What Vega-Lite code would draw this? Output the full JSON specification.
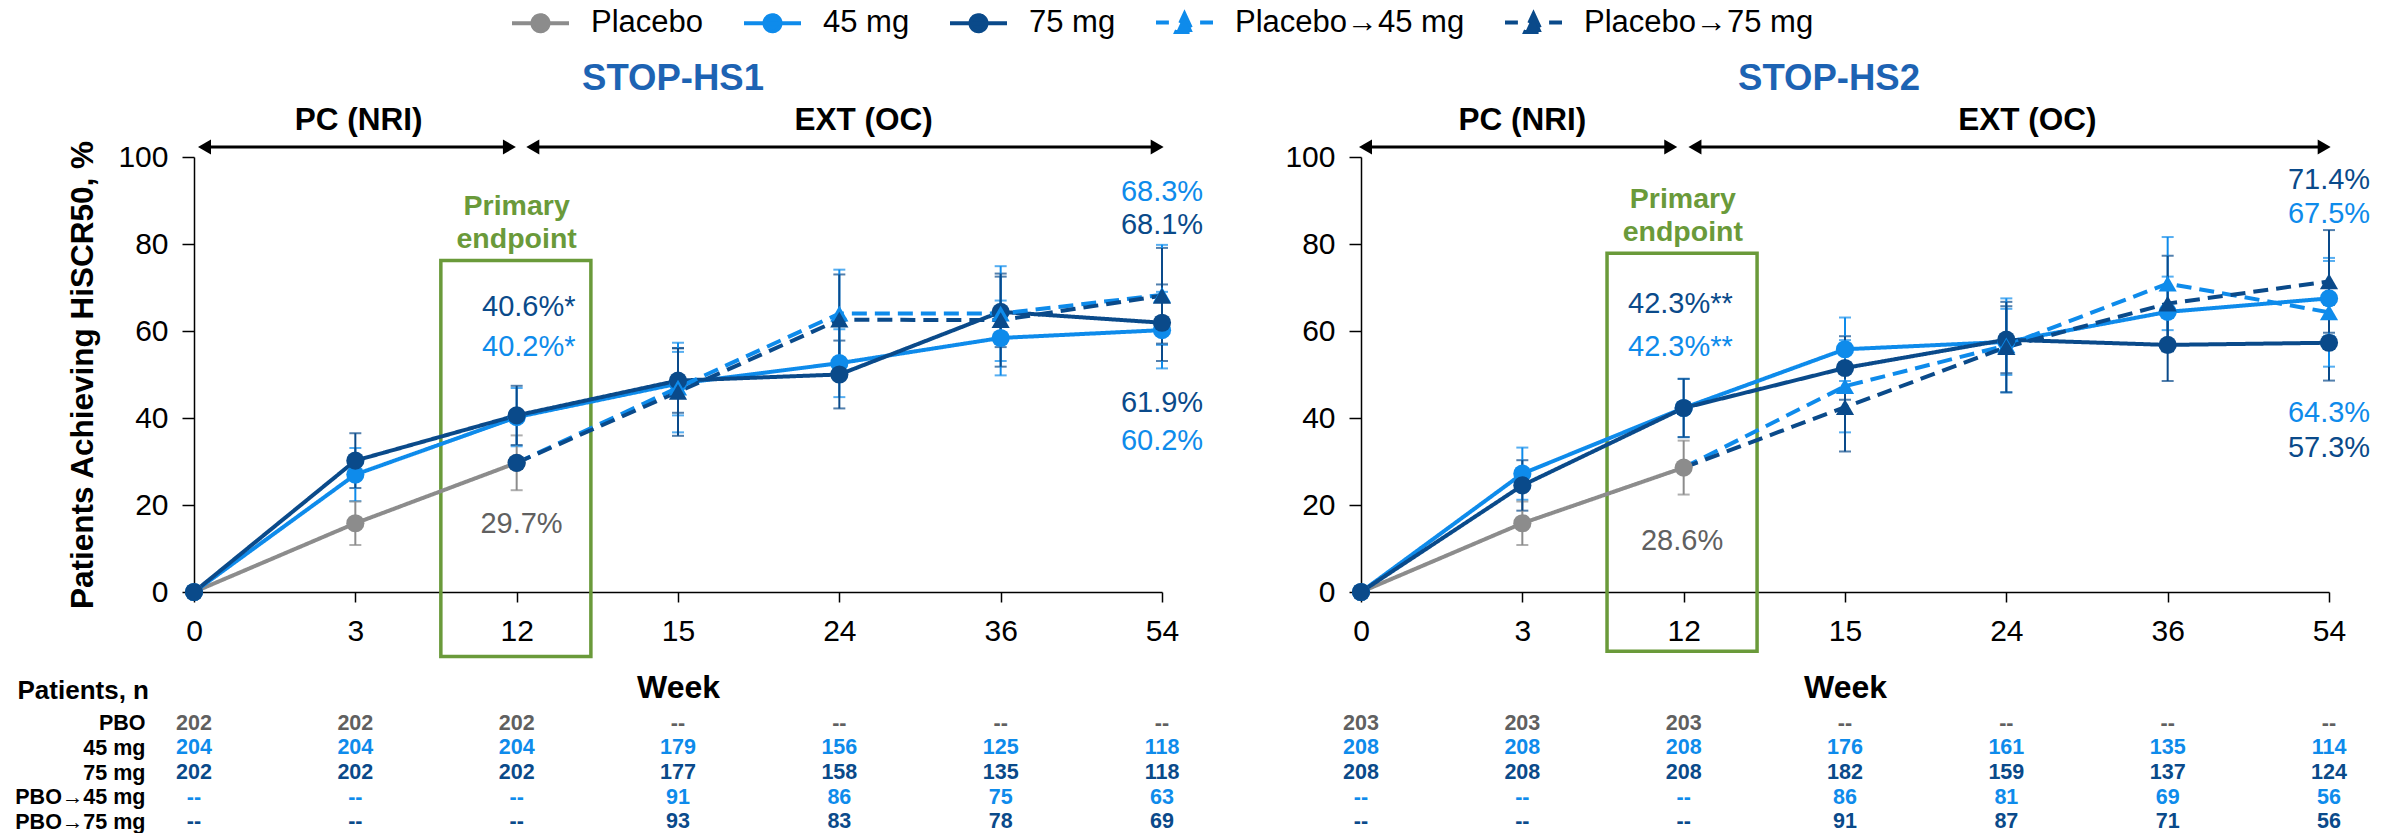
{
  "$schema": "https://vega.github.io/schema/vega-lite/v6.json",
  "background": "white",
  "padding": {"left": 14, "top": 7, "right": 10, "bottom": 0},
  "config": {
    "font": "Liberation Sans",
    "view": {"stroke": null},
    "axis": {"grid": false, "domainColor": "#000000", "tickColor": "#000000", "labelColor": "#000000", "titleColor": "#000000", "domainWidth": 1.5, "tickWidth": 1.5}
  },
  "datasets": {
    "pts": [
      {"s": "HS1", "series": "Placebo", "pos": 0, "week": 0, "v": 0},
      {"s": "HS1", "series": "Placebo", "pos": 1, "week": 3, "v": 15.8, "lo": 10.8, "hi": 20.8},
      {"s": "HS1", "series": "Placebo", "pos": 2, "week": 12, "v": 29.7, "lo": 23.4, "hi": 36.0},
      {"s": "HS1", "series": "45 mg", "pos": 0, "week": 0, "v": 0},
      {"s": "HS1", "series": "45 mg", "pos": 1, "week": 3, "v": 27.0, "lo": 20.9, "hi": 33.1},
      {"s": "HS1", "series": "45 mg", "pos": 2, "week": 12, "v": 40.2, "lo": 33.5, "hi": 46.9},
      {"s": "HS1", "series": "45 mg", "pos": 3, "week": 15, "v": 47.9, "lo": 40.6, "hi": 55.2},
      {"s": "HS1", "series": "45 mg", "pos": 4, "week": 24, "v": 52.6, "lo": 44.8, "hi": 60.4},
      {"s": "HS1", "series": "45 mg", "pos": 5, "week": 36, "v": 58.4, "lo": 49.8, "hi": 67.0},
      {"s": "HS1", "series": "45 mg", "pos": 6, "week": 54, "v": 60.2, "lo": 51.4, "hi": 69.0},
      {"s": "HS1", "series": "75 mg", "pos": 0, "week": 0, "v": 0},
      {"s": "HS1", "series": "75 mg", "pos": 1, "week": 3, "v": 30.2, "lo": 23.9, "hi": 36.5},
      {"s": "HS1", "series": "75 mg", "pos": 2, "week": 12, "v": 40.6, "lo": 33.8, "hi": 47.4},
      {"s": "HS1", "series": "75 mg", "pos": 3, "week": 15, "v": 48.6, "lo": 41.2, "hi": 56.0},
      {"s": "HS1", "series": "75 mg", "pos": 4, "week": 24, "v": 50.0, "lo": 42.2, "hi": 57.8},
      {"s": "HS1", "series": "75 mg", "pos": 5, "week": 36, "v": 64.4, "lo": 56.3, "hi": 72.5},
      {"s": "HS1", "series": "75 mg", "pos": 6, "week": 54, "v": 61.9, "lo": 53.1, "hi": 70.7},
      {"s": "HS1", "series": "Placebo→45 mg", "pos": 2, "week": 12, "v": 29.7},
      {"s": "HS1", "series": "Placebo→45 mg", "pos": 3, "week": 15, "v": 47.0, "lo": 36.7, "hi": 57.3},
      {"s": "HS1", "series": "Placebo→45 mg", "pos": 4, "week": 24, "v": 64.0, "lo": 53.9, "hi": 74.1},
      {"s": "HS1", "series": "Placebo→45 mg", "pos": 5, "week": 36, "v": 64.0, "lo": 53.1, "hi": 74.9},
      {"s": "HS1", "series": "Placebo→45 mg", "pos": 6, "week": 54, "v": 68.3, "lo": 56.8, "hi": 79.8},
      {"s": "HS1", "series": "Placebo→75 mg", "pos": 2, "week": 12, "v": 29.7},
      {"s": "HS1", "series": "Placebo→75 mg", "pos": 3, "week": 15, "v": 46.0, "lo": 35.9, "hi": 56.1},
      {"s": "HS1", "series": "Placebo→75 mg", "pos": 4, "week": 24, "v": 62.6, "lo": 52.2, "hi": 73.0},
      {"s": "HS1", "series": "Placebo→75 mg", "pos": 5, "week": 36, "v": 62.5, "lo": 51.8, "hi": 73.2},
      {"s": "HS1", "series": "Placebo→75 mg", "pos": 6, "week": 54, "v": 68.1, "lo": 57.1, "hi": 79.1},
      {"s": "HS2", "series": "Placebo", "pos": 0, "week": 0, "v": 0},
      {"s": "HS2", "series": "Placebo", "pos": 1, "week": 3, "v": 15.8, "lo": 10.8, "hi": 20.8},
      {"s": "HS2", "series": "Placebo", "pos": 2, "week": 12, "v": 28.6, "lo": 22.4, "hi": 34.8},
      {"s": "HS2", "series": "45 mg", "pos": 0, "week": 0, "v": 0},
      {"s": "HS2", "series": "45 mg", "pos": 1, "week": 3, "v": 27.2, "lo": 21.2, "hi": 33.2},
      {"s": "HS2", "series": "45 mg", "pos": 2, "week": 12, "v": 42.3, "lo": 35.6, "hi": 49.0},
      {"s": "HS2", "series": "45 mg", "pos": 3, "week": 15, "v": 55.8, "lo": 48.5, "hi": 63.1},
      {"s": "HS2", "series": "45 mg", "pos": 4, "week": 24, "v": 57.5, "lo": 49.9, "hi": 65.1},
      {"s": "HS2", "series": "45 mg", "pos": 5, "week": 36, "v": 64.4, "lo": 56.3, "hi": 72.5},
      {"s": "HS2", "series": "45 mg", "pos": 6, "week": 54, "v": 67.5, "lo": 58.9, "hi": 76.1},
      {"s": "HS2", "series": "75 mg", "pos": 0, "week": 0, "v": 0},
      {"s": "HS2", "series": "75 mg", "pos": 1, "week": 3, "v": 24.5, "lo": 18.7, "hi": 30.3},
      {"s": "HS2", "series": "75 mg", "pos": 2, "week": 12, "v": 42.3, "lo": 35.6, "hi": 49.0},
      {"s": "HS2", "series": "75 mg", "pos": 3, "week": 15, "v": 51.5, "lo": 44.2, "hi": 58.8},
      {"s": "HS2", "series": "75 mg", "pos": 4, "week": 24, "v": 58.0, "lo": 50.3, "hi": 65.7},
      {"s": "HS2", "series": "75 mg", "pos": 5, "week": 36, "v": 56.8, "lo": 48.5, "hi": 65.1},
      {"s": "HS2", "series": "75 mg", "pos": 6, "week": 54, "v": 57.3, "lo": 48.6, "hi": 66.0},
      {"s": "HS2", "series": "Placebo→45 mg", "pos": 2, "week": 12, "v": 28.6},
      {"s": "HS2", "series": "Placebo→45 mg", "pos": 3, "week": 15, "v": 47.3, "lo": 36.7, "hi": 57.9},
      {"s": "HS2", "series": "Placebo→45 mg", "pos": 4, "week": 24, "v": 56.7, "lo": 45.9, "hi": 67.5},
      {"s": "HS2", "series": "Placebo→45 mg", "pos": 5, "week": 36, "v": 70.9, "lo": 60.2, "hi": 81.6},
      {"s": "HS2", "series": "Placebo→45 mg", "pos": 6, "week": 54, "v": 64.3, "lo": 51.8, "hi": 76.8},
      {"s": "HS2", "series": "Placebo→75 mg", "pos": 2, "week": 12, "v": 28.6},
      {"s": "HS2", "series": "Placebo→75 mg", "pos": 3, "week": 15, "v": 42.5, "lo": 32.3, "hi": 52.7},
      {"s": "HS2", "series": "Placebo→75 mg", "pos": 4, "week": 24, "v": 56.3, "lo": 45.9, "hi": 66.7},
      {"s": "HS2", "series": "Placebo→75 mg", "pos": 5, "week": 36, "v": 66.3, "lo": 55.3, "hi": 77.3},
      {"s": "HS2", "series": "Placebo→75 mg", "pos": 6, "week": 54, "v": 71.4, "lo": 59.6, "hi": 83.2}
    ],
    "lab": [
      {"s": "HS1", "series": "75 mg", "pos": 2.075, "v": 65.5, "t": "40.6%*"},
      {"s": "HS1", "series": "45 mg", "pos": 2.075, "v": 56.3, "t": "40.2%*"},
      {"s": "HS1", "series": "Placebo", "pos": 2.03, "v": 15.7, "t": "29.7%"},
      {"s": "HS1", "series": "45 mg", "pos": 6, "v": 92.0, "t": "68.3%"},
      {"s": "HS1", "series": "75 mg", "pos": 6, "v": 84.3, "t": "68.1%"},
      {"s": "HS1", "series": "75 mg", "pos": 6, "v": 43.4, "t": "61.9%"},
      {"s": "HS1", "series": "45 mg", "pos": 6, "v": 34.8, "t": "60.2%"},
      {"s": "HS2", "series": "75 mg", "pos": 1.98, "v": 66.3, "t": "42.3%**"},
      {"s": "HS2", "series": "45 mg", "pos": 1.98, "v": 56.3, "t": "42.3%**"},
      {"s": "HS2", "series": "Placebo", "pos": 1.99, "v": 11.8, "t": "28.6%"},
      {"s": "HS2", "series": "75 mg", "pos": 6, "v": 94.6, "t": "71.4%"},
      {"s": "HS2", "series": "45 mg", "pos": 6, "v": 87.0, "t": "67.5%"},
      {"s": "HS2", "series": "45 mg", "pos": 6, "v": 41.1, "t": "64.3%"},
      {"s": "HS2", "series": "75 mg", "pos": 6, "v": 33.2, "t": "57.3%"}
    ],
    "box": [
      {"s": "HS1", "x1": 1.53, "x2": 2.46, "y1": -14.8, "y2": 76.2},
      {"s": "HS2", "x1": 1.525, "x2": 2.455, "y1": -13.6, "y2": 77.9}
    ],
    "pe": [
      {"s": "HS1", "pos": 2.0, "v": 88.8, "t": "Primary"},
      {"s": "HS1", "pos": 2.0, "v": 81.2, "t": "endpoint"},
      {"s": "HS2", "pos": 1.995, "v": 90.4, "t": "Primary"},
      {"s": "HS2", "pos": 1.995, "v": 82.7, "t": "endpoint"}
    ],
    "arr": [
      {"s": "HS1", "x1": 0.065, "x2": 1.955, "y": 102.3},
      {"s": "HS1", "x1": 2.1, "x2": 5.97, "y": 102.3},
      {"s": "HS2", "x1": 0.028, "x2": 1.92, "y": 102.3},
      {"s": "HS2", "x1": 2.07, "x2": 5.97, "y": 102.3}
    ],
    "phase": [
      {"s": "HS1", "pos": 1.02, "v": 108.2, "t": "PC (NRI)"},
      {"s": "HS1", "pos": 4.15, "v": 108.2, "t": "EXT (OC)"},
      {"s": "HS2", "pos": 1.0, "v": 108.2, "t": "PC (NRI)"},
      {"s": "HS2", "pos": 4.13, "v": 108.2, "t": "EXT (OC)"}
    ],
    "tbl": [
      {"s": "HS1", "series": "Placebo", "pos": 0, "n": "202"},
      {"s": "HS1", "series": "Placebo", "pos": 1, "n": "202"},
      {"s": "HS1", "series": "Placebo", "pos": 2, "n": "202"},
      {"s": "HS1", "series": "Placebo", "pos": 3, "n": "--"},
      {"s": "HS1", "series": "Placebo", "pos": 4, "n": "--"},
      {"s": "HS1", "series": "Placebo", "pos": 5, "n": "--"},
      {"s": "HS1", "series": "Placebo", "pos": 6, "n": "--"},
      {"s": "HS1", "series": "45 mg", "pos": 0, "n": "204"},
      {"s": "HS1", "series": "45 mg", "pos": 1, "n": "204"},
      {"s": "HS1", "series": "45 mg", "pos": 2, "n": "204"},
      {"s": "HS1", "series": "45 mg", "pos": 3, "n": "179"},
      {"s": "HS1", "series": "45 mg", "pos": 4, "n": "156"},
      {"s": "HS1", "series": "45 mg", "pos": 5, "n": "125"},
      {"s": "HS1", "series": "45 mg", "pos": 6, "n": "118"},
      {"s": "HS1", "series": "75 mg", "pos": 0, "n": "202"},
      {"s": "HS1", "series": "75 mg", "pos": 1, "n": "202"},
      {"s": "HS1", "series": "75 mg", "pos": 2, "n": "202"},
      {"s": "HS1", "series": "75 mg", "pos": 3, "n": "177"},
      {"s": "HS1", "series": "75 mg", "pos": 4, "n": "158"},
      {"s": "HS1", "series": "75 mg", "pos": 5, "n": "135"},
      {"s": "HS1", "series": "75 mg", "pos": 6, "n": "118"},
      {"s": "HS1", "series": "Placebo→45 mg", "pos": 0, "n": "--"},
      {"s": "HS1", "series": "Placebo→45 mg", "pos": 1, "n": "--"},
      {"s": "HS1", "series": "Placebo→45 mg", "pos": 2, "n": "--"},
      {"s": "HS1", "series": "Placebo→45 mg", "pos": 3, "n": "91"},
      {"s": "HS1", "series": "Placebo→45 mg", "pos": 4, "n": "86"},
      {"s": "HS1", "series": "Placebo→45 mg", "pos": 5, "n": "75"},
      {"s": "HS1", "series": "Placebo→45 mg", "pos": 6, "n": "63"},
      {"s": "HS1", "series": "Placebo→75 mg", "pos": 0, "n": "--"},
      {"s": "HS1", "series": "Placebo→75 mg", "pos": 1, "n": "--"},
      {"s": "HS1", "series": "Placebo→75 mg", "pos": 2, "n": "--"},
      {"s": "HS1", "series": "Placebo→75 mg", "pos": 3, "n": "93"},
      {"s": "HS1", "series": "Placebo→75 mg", "pos": 4, "n": "83"},
      {"s": "HS1", "series": "Placebo→75 mg", "pos": 5, "n": "78"},
      {"s": "HS1", "series": "Placebo→75 mg", "pos": 6, "n": "69"},
      {"s": "HS2", "series": "Placebo", "pos": 0, "n": "203"},
      {"s": "HS2", "series": "Placebo", "pos": 1, "n": "203"},
      {"s": "HS2", "series": "Placebo", "pos": 2, "n": "203"},
      {"s": "HS2", "series": "Placebo", "pos": 3, "n": "--"},
      {"s": "HS2", "series": "Placebo", "pos": 4, "n": "--"},
      {"s": "HS2", "series": "Placebo", "pos": 5, "n": "--"},
      {"s": "HS2", "series": "Placebo", "pos": 6, "n": "--"},
      {"s": "HS2", "series": "45 mg", "pos": 0, "n": "208"},
      {"s": "HS2", "series": "45 mg", "pos": 1, "n": "208"},
      {"s": "HS2", "series": "45 mg", "pos": 2, "n": "208"},
      {"s": "HS2", "series": "45 mg", "pos": 3, "n": "176"},
      {"s": "HS2", "series": "45 mg", "pos": 4, "n": "161"},
      {"s": "HS2", "series": "45 mg", "pos": 5, "n": "135"},
      {"s": "HS2", "series": "45 mg", "pos": 6, "n": "114"},
      {"s": "HS2", "series": "75 mg", "pos": 0, "n": "208"},
      {"s": "HS2", "series": "75 mg", "pos": 1, "n": "208"},
      {"s": "HS2", "series": "75 mg", "pos": 2, "n": "208"},
      {"s": "HS2", "series": "75 mg", "pos": 3, "n": "182"},
      {"s": "HS2", "series": "75 mg", "pos": 4, "n": "159"},
      {"s": "HS2", "series": "75 mg", "pos": 5, "n": "137"},
      {"s": "HS2", "series": "75 mg", "pos": 6, "n": "124"},
      {"s": "HS2", "series": "Placebo→45 mg", "pos": 0, "n": "--"},
      {"s": "HS2", "series": "Placebo→45 mg", "pos": 1, "n": "--"},
      {"s": "HS2", "series": "Placebo→45 mg", "pos": 2, "n": "--"},
      {"s": "HS2", "series": "Placebo→45 mg", "pos": 3, "n": "86"},
      {"s": "HS2", "series": "Placebo→45 mg", "pos": 4, "n": "81"},
      {"s": "HS2", "series": "Placebo→45 mg", "pos": 5, "n": "69"},
      {"s": "HS2", "series": "Placebo→45 mg", "pos": 6, "n": "56"},
      {"s": "HS2", "series": "Placebo→75 mg", "pos": 0, "n": "--"},
      {"s": "HS2", "series": "Placebo→75 mg", "pos": 1, "n": "--"},
      {"s": "HS2", "series": "Placebo→75 mg", "pos": 2, "n": "--"},
      {"s": "HS2", "series": "Placebo→75 mg", "pos": 3, "n": "91"},
      {"s": "HS2", "series": "Placebo→75 mg", "pos": 4, "n": "87"},
      {"s": "HS2", "series": "Placebo→75 mg", "pos": 5, "n": "71"},
      {"s": "HS2", "series": "Placebo→75 mg", "pos": 6, "n": "56"}
    ]
  },
  "resolve": {"scale": {"color": "shared", "fill": "shared", "strokeDash": "shared"}},
  "bounds": "flush",
  "columns": 2,
  "spacing": {"row": 119.5, "column": 199},
  "concat": [
    {
      "width": 968,
      "height": 435,
      "title": {"text": "STOP-HS1", "fontSize": 36.5, "fontWeight": "bold", "color": "#1d63b3", "frame": "group", "anchor": "middle", "offset": 7.5, "dx": -5},
      "layer": [
        {
          "data": {"name": "box"},
          "transform": [{"filter": "datum.s === 'HS1'"}],
          "mark": {"type": "rect", "filled": false, "stroke": "#6a9a3a", "strokeWidth": 3.5},
          "encoding": {
            "x": {"field": "x1", "type": "quantitative", "scale": {"domain": [0, 6]},
              "axis": {"values": [0, 1, 2, 3, 4, 5, 6], "labelExpr": "['0','3','12','15','24','36','54'][datum.value]", "tickSize": 10, "labelPadding": 14, "labelFontSize": 30, "labelFlush": false, "labelOverlap": false, "title": "Week", "titleFontSize": 32, "titleFontWeight": "bold", "titlePadding": 26}},
            "x2": {"field": "x2"},
            "y": {"field": "y1", "type": "quantitative", "scale": {"domain": [0, 100]},
              "axis": {"values": [0, 20, 40, 60, 80, 100], "tickSize": 12, "labelPadding": 14, "labelFontSize": 30, "title": "Patients Achieving HiSCR50, %", "titleFontSize": 31.5, "titleFontWeight": "bold", "titlePadding": 18}},
            "y2": {"field": "y2"}
          }
        },
        {
          "data": {"name": "pts"},
          "transform": [{"filter": "datum.s === 'HS1'"}],
          "mark": {"type": "line", "strokeWidth": 4},
          "encoding": {
            "x": {"field": "pos", "type": "quantitative", "scale": {"domain": [0, 6]}, "title": "Week"},
            "y": {"field": "v", "type": "quantitative", "scale": {"domain": [0, 100]}, "title": "Patients Achieving HiSCR50, %"},
            "color": {"field": "series", "type": "nominal",
              "scale": {"domain": ["Placebo", "45 mg", "75 mg", "Placebo→45 mg", "Placebo→75 mg"], "range": ["#8c8c8c", "#0e8beb", "#0a4a8a", "#0e8beb", "#0a4a8a"]},
              "legend": {
                "orient": "none", "legendX": 331, "legendY": -150, "direction": "horizontal", "title": null,
                "labelFontSize": 31, "labelColor": "#000000", "labelOffset": 35, "columnPadding": 32, "labelLimit": 400,
                "symbolSize": 576, "symbolStrokeWidth": 4,
                "encode": {"symbols": {"update": {
                  "shape": {"signal": "indexof(datum.value, '→') >= 0 ? 'M-2.375,0H-1.3M1.3,0H2.375M0,-0.72L0.69,0.78H-0.69Z' : 'M-2.375,0H2.375M-0.67,0A0.67,0.67 0 1,1 0.67,0A0.67,0.67 0 1,1 -0.67,0Z'"},
                  "fill": {"scale": "color", "field": "value"},
                  "stroke": {"scale": "color", "field": "value"},
                  "strokeWidth": {"value": 4},
                  "strokeDash": {"value": []},
                  "opacity": {"value": 1},
                  "size": {"value": 576}
                }}}
              }},
            "strokeDash": {"field": "series", "type": "nominal",
              "scale": {"domain": ["Placebo", "45 mg", "75 mg", "Placebo→45 mg", "Placebo→75 mg"], "range": [[1, 0], [1, 0], [1, 0], [15, 8], [15, 8]]},
              "legend": null}
          }
        },
        {
          "data": {"name": "pts"},
          "transform": [{"filter": "datum.s === 'HS1' && isValid(datum.lo)"}],
          "mark": {"type": "errorbar", "ticks": true, "size": 12, "thickness": 2},
          "encoding": {
            "x": {"field": "pos", "type": "quantitative", "scale": {"domain": [0, 6]}, "title": "Week"},
            "y": {"field": "lo", "type": "quantitative", "scale": {"domain": [0, 100]}, "title": "Patients Achieving HiSCR50, %"},
            "y2": {"field": "hi"},
            "color": {"field": "series", "type": "nominal"}
          }
        },
        {
          "data": {"name": "pts"},
          "transform": [{"filter": "datum.s === 'HS1' && (indexof(datum.series, '→') < 0 || (datum.pos === 2 && datum.series === 'Placebo→75 mg'))"}],
          "mark": {"type": "point", "shape": "circle", "filled": true, "size": 330, "opacity": 1},
          "encoding": {
            "x": {"field": "pos", "type": "quantitative", "scale": {"domain": [0, 6]}, "title": "Week"},
            "y": {"field": "v", "type": "quantitative", "scale": {"domain": [0, 100]}, "title": "Patients Achieving HiSCR50, %"},
            "color": {"field": "series", "type": "nominal"}
          }
        },
        {
          "data": {"name": "pts"},
          "transform": [{"filter": "datum.s === 'HS1' && indexof(datum.series, '→') >= 0 && datum.pos > 2"}],
          "mark": {"type": "point", "shape": "triangle-up", "filled": true, "size": 330, "opacity": 1},
          "encoding": {
            "x": {"field": "pos", "type": "quantitative", "scale": {"domain": [0, 6]}, "title": "Week"},
            "y": {"field": "v", "type": "quantitative", "scale": {"domain": [0, 100]}, "title": "Patients Achieving HiSCR50, %"},
            "color": {"field": "series", "type": "nominal"}
          }
        },
        {
          "data": {"name": "lab"},
          "transform": [{"filter": "datum.s === 'HS1'"}],
          "mark": {"type": "text", "fontSize": 29, "align": "center", "baseline": "middle"},
          "encoding": {
            "x": {"field": "pos", "type": "quantitative", "scale": {"domain": [0, 6]}, "title": "Week"},
            "y": {"field": "v", "type": "quantitative", "scale": {"domain": [0, 100]}, "title": "Patients Achieving HiSCR50, %"},
            "text": {"field": "t"},
            "fill": {"field": "series", "type": "nominal",
              "scale": {"domain": ["Placebo", "45 mg", "75 mg", "Placebo→45 mg", "Placebo→75 mg"], "range": ["#606060", "#0e8beb", "#0a4a8a", "#0e8beb", "#0a4a8a"]},
              "legend": null}
          }
        },
        {
          "data": {"name": "pe"},
          "transform": [{"filter": "datum.s === 'HS1'"}],
          "mark": {"type": "text", "fontSize": 28.5, "fontWeight": "bold", "color": "#6a9a3a", "align": "center", "baseline": "middle"},
          "encoding": {
            "x": {"field": "pos", "type": "quantitative", "scale": {"domain": [0, 6]}, "title": "Week"},
            "y": {"field": "v", "type": "quantitative", "scale": {"domain": [0, 100]}, "title": "Patients Achieving HiSCR50, %"},
            "text": {"field": "t"}
          }
        },
        {
          "data": {"name": "arr"},
          "transform": [{"filter": "datum.s === 'HS1'"}],
          "mark": {"type": "rule", "strokeWidth": 3, "color": "#000000"},
          "encoding": {
            "x": {"field": "x1", "type": "quantitative", "scale": {"domain": [0, 6]}, "title": "Week"},
            "x2": {"field": "x2"},
            "y": {"field": "y", "type": "quantitative", "scale": {"domain": [0, 100]}, "title": "Patients Achieving HiSCR50, %"}
          }
        },
        {
          "data": {"name": "arr"},
          "transform": [{"filter": "datum.s === 'HS1'"}],
          "mark": {"type": "point", "shape": "triangle-left", "filled": true, "size": 225, "color": "#000000", "opacity": 1},
          "encoding": {
            "x": {"field": "x1", "type": "quantitative", "scale": {"domain": [0, 6]}, "title": "Week"},
            "y": {"field": "y", "type": "quantitative", "scale": {"domain": [0, 100]}, "title": "Patients Achieving HiSCR50, %"}
          }
        },
        {
          "data": {"name": "arr"},
          "transform": [{"filter": "datum.s === 'HS1'"}],
          "mark": {"type": "point", "shape": "triangle-right", "filled": true, "size": 225, "color": "#000000", "opacity": 1},
          "encoding": {
            "x": {"field": "x2", "type": "quantitative", "scale": {"domain": [0, 6]}, "title": "Week"},
            "y": {"field": "y", "type": "quantitative", "scale": {"domain": [0, 100]}, "title": "Patients Achieving HiSCR50, %"}
          }
        },
        {
          "data": {"name": "phase"},
          "transform": [{"filter": "datum.s === 'HS1'"}],
          "mark": {"type": "text", "fontSize": 31.5, "fontWeight": "bold", "color": "#000000", "align": "center", "baseline": "middle"},
          "encoding": {
            "x": {"field": "pos", "type": "quantitative", "scale": {"domain": [0, 6]}, "title": "Week"},
            "y": {"field": "v", "type": "quantitative", "scale": {"domain": [0, 100]}, "title": "Patients Achieving HiSCR50, %"},
            "text": {"field": "t"}
          }
        }
      ]
    },
    {
      "width": 968,
      "height": 435,
      "title": {"text": "STOP-HS2", "fontSize": 36.5, "fontWeight": "bold", "color": "#1d63b3", "frame": "group", "anchor": "middle", "offset": 7.5, "dx": -16},
      "layer": [
        {
          "data": {"name": "box"},
          "transform": [{"filter": "datum.s === 'HS2'"}],
          "mark": {"type": "rect", "filled": false, "stroke": "#6a9a3a", "strokeWidth": 3.5},
          "encoding": {
            "x": {"field": "x1", "type": "quantitative", "scale": {"domain": [0, 6]},
              "axis": {"values": [0, 1, 2, 3, 4, 5, 6], "labelExpr": "['0','3','12','15','24','36','54'][datum.value]", "tickSize": 10, "labelPadding": 14, "labelFontSize": 30, "labelFlush": false, "labelOverlap": false, "title": "Week", "titleFontSize": 32, "titleFontWeight": "bold", "titlePadding": 26}},
            "x2": {"field": "x2"},
            "y": {"field": "y1", "type": "quantitative", "scale": {"domain": [0, 100]},
              "axis": {"values": [0, 20, 40, 60, 80, 100], "tickSize": 12, "labelPadding": 14, "labelFontSize": 30, "title": " "}},
            "y2": {"field": "y2"}
          }
        },
        {
          "data": {"name": "pts"},
          "transform": [{"filter": "datum.s === 'HS2'"}],
          "mark": {"type": "line", "strokeWidth": 4},
          "encoding": {
            "x": {"field": "pos", "type": "quantitative", "scale": {"domain": [0, 6]}, "title": "Week"},
            "y": {"field": "v", "type": "quantitative", "scale": {"domain": [0, 100]}, "title": " "},
            "color": {"field": "series", "type": "nominal"},
            "strokeDash": {"field": "series", "type": "nominal", "legend": null}
          }
        },
        {
          "data": {"name": "pts"},
          "transform": [{"filter": "datum.s === 'HS2' && isValid(datum.lo)"}],
          "mark": {"type": "errorbar", "ticks": true, "size": 12, "thickness": 2},
          "encoding": {
            "x": {"field": "pos", "type": "quantitative", "scale": {"domain": [0, 6]}, "title": "Week"},
            "y": {"field": "lo", "type": "quantitative", "scale": {"domain": [0, 100]}, "title": " "},
            "y2": {"field": "hi"},
            "color": {"field": "series", "type": "nominal"}
          }
        },
        {
          "data": {"name": "pts"},
          "transform": [{"filter": "datum.s === 'HS2' && indexof(datum.series, '→') < 0"}],
          "mark": {"type": "point", "shape": "circle", "filled": true, "size": 330, "opacity": 1},
          "encoding": {
            "x": {"field": "pos", "type": "quantitative", "scale": {"domain": [0, 6]}, "title": "Week"},
            "y": {"field": "v", "type": "quantitative", "scale": {"domain": [0, 100]}, "title": " "},
            "color": {"field": "series", "type": "nominal"}
          }
        },
        {
          "data": {"name": "pts"},
          "transform": [{"filter": "datum.s === 'HS2' && indexof(datum.series, '→') >= 0 && datum.pos > 2"}],
          "mark": {"type": "point", "shape": "triangle-up", "filled": true, "size": 330, "opacity": 1},
          "encoding": {
            "x": {"field": "pos", "type": "quantitative", "scale": {"domain": [0, 6]}, "title": "Week"},
            "y": {"field": "v", "type": "quantitative", "scale": {"domain": [0, 100]}, "title": " "},
            "color": {"field": "series", "type": "nominal"}
          }
        },
        {
          "data": {"name": "lab"},
          "transform": [{"filter": "datum.s === 'HS2'"}],
          "mark": {"type": "text", "fontSize": 29, "align": "center", "baseline": "middle"},
          "encoding": {
            "x": {"field": "pos", "type": "quantitative", "scale": {"domain": [0, 6]}, "title": "Week"},
            "y": {"field": "v", "type": "quantitative", "scale": {"domain": [0, 100]}, "title": " "},
            "text": {"field": "t"},
            "fill": {"field": "series", "type": "nominal", "legend": null}
          }
        },
        {
          "data": {"name": "pe"},
          "transform": [{"filter": "datum.s === 'HS2'"}],
          "mark": {"type": "text", "fontSize": 28.5, "fontWeight": "bold", "color": "#6a9a3a", "align": "center", "baseline": "middle"},
          "encoding": {
            "x": {"field": "pos", "type": "quantitative", "scale": {"domain": [0, 6]}, "title": "Week"},
            "y": {"field": "v", "type": "quantitative", "scale": {"domain": [0, 100]}, "title": " "},
            "text": {"field": "t"}
          }
        },
        {
          "data": {"name": "arr"},
          "transform": [{"filter": "datum.s === 'HS2'"}],
          "mark": {"type": "rule", "strokeWidth": 3, "color": "#000000"},
          "encoding": {
            "x": {"field": "x1", "type": "quantitative", "scale": {"domain": [0, 6]}, "title": "Week"},
            "x2": {"field": "x2"},
            "y": {"field": "y", "type": "quantitative", "scale": {"domain": [0, 100]}, "title": " "}
          }
        },
        {
          "data": {"name": "arr"},
          "transform": [{"filter": "datum.s === 'HS2'"}],
          "mark": {"type": "point", "shape": "triangle-left", "filled": true, "size": 225, "color": "#000000", "opacity": 1},
          "encoding": {
            "x": {"field": "x1", "type": "quantitative", "scale": {"domain": [0, 6]}, "title": "Week"},
            "y": {"field": "y", "type": "quantitative", "scale": {"domain": [0, 100]}, "title": " "}
          }
        },
        {
          "data": {"name": "arr"},
          "transform": [{"filter": "datum.s === 'HS2'"}],
          "mark": {"type": "point", "shape": "triangle-right", "filled": true, "size": 225, "color": "#000000", "opacity": 1},
          "encoding": {
            "x": {"field": "x2", "type": "quantitative", "scale": {"domain": [0, 6]}, "title": "Week"},
            "y": {"field": "y", "type": "quantitative", "scale": {"domain": [0, 100]}, "title": " "}
          }
        },
        {
          "data": {"name": "phase"},
          "transform": [{"filter": "datum.s === 'HS2'"}],
          "mark": {"type": "text", "fontSize": 31.5, "fontWeight": "bold", "color": "#000000", "align": "center", "baseline": "middle"},
          "encoding": {
            "x": {"field": "pos", "type": "quantitative", "scale": {"domain": [0, 6]}, "title": "Week"},
            "y": {"field": "v", "type": "quantitative", "scale": {"domain": [0, 100]}, "title": " "},
            "text": {"field": "t"}
          }
        }
      ]
    },
    {
      "width": 968,
      "height": 123,
      "data": {"name": "tbl"},
      "transform": [{"filter": "datum.s === 'HS1'"}],
      "mark": {"type": "text", "fontSize": 21.5, "fontWeight": "bold", "align": "center", "baseline": "middle"},
      "encoding": {
        "x": {"field": "pos", "type": "quantitative", "scale": {"domain": [0, 6]}, "axis": null},
        "y": {"field": "series", "type": "nominal", "sort": null,
          "scale": {"domain": ["Placebo", "45 mg", "75 mg", "Placebo→45 mg", "Placebo→75 mg"], "paddingInner": 0, "paddingOuter": 0},
          "axis": {
            "title": "Patients, n", "titleAngle": 0, "titleAlign": "left", "titleBaseline": "middle", "titleX": -177, "titleY": -21,
            "titleFontSize": 26, "titleFontWeight": "bold",
            "labelFontSize": 21.5, "labelFontWeight": "bold", "labelPadding": 49, "ticks": false, "domain": false,
            "labelExpr": "replace(datum.value, 'Placebo', 'PBO')",
            "encode": {"labels": {"update": {"fill": {"signal": "datum.value === 'Placebo' ? '#606060' : (indexof(datum.value, '45') >= 0 ? '#0e8beb' : '#0a4a8a')"}}}}
          }},
        "text": {"field": "n"},
        "fill": {"field": "series", "type": "nominal", "legend": null}
      }
    },
    {
      "width": 968,
      "height": 123,
      "data": {"name": "tbl"},
      "transform": [{"filter": "datum.s === 'HS2'"}],
      "mark": {"type": "text", "fontSize": 21.5, "fontWeight": "bold", "align": "center", "baseline": "middle"},
      "encoding": {
        "x": {"field": "pos", "type": "quantitative", "scale": {"domain": [0, 6]}, "axis": null},
        "y": {"field": "series", "type": "nominal", "sort": null,
          "scale": {"domain": ["Placebo", "45 mg", "75 mg", "Placebo→45 mg", "Placebo→75 mg"], "paddingInner": 0, "paddingOuter": 0},
          "axis": null},
        "text": {"field": "n"},
        "fill": {"field": "series", "type": "nominal", "legend": null}
      }
    }
  ]
}
